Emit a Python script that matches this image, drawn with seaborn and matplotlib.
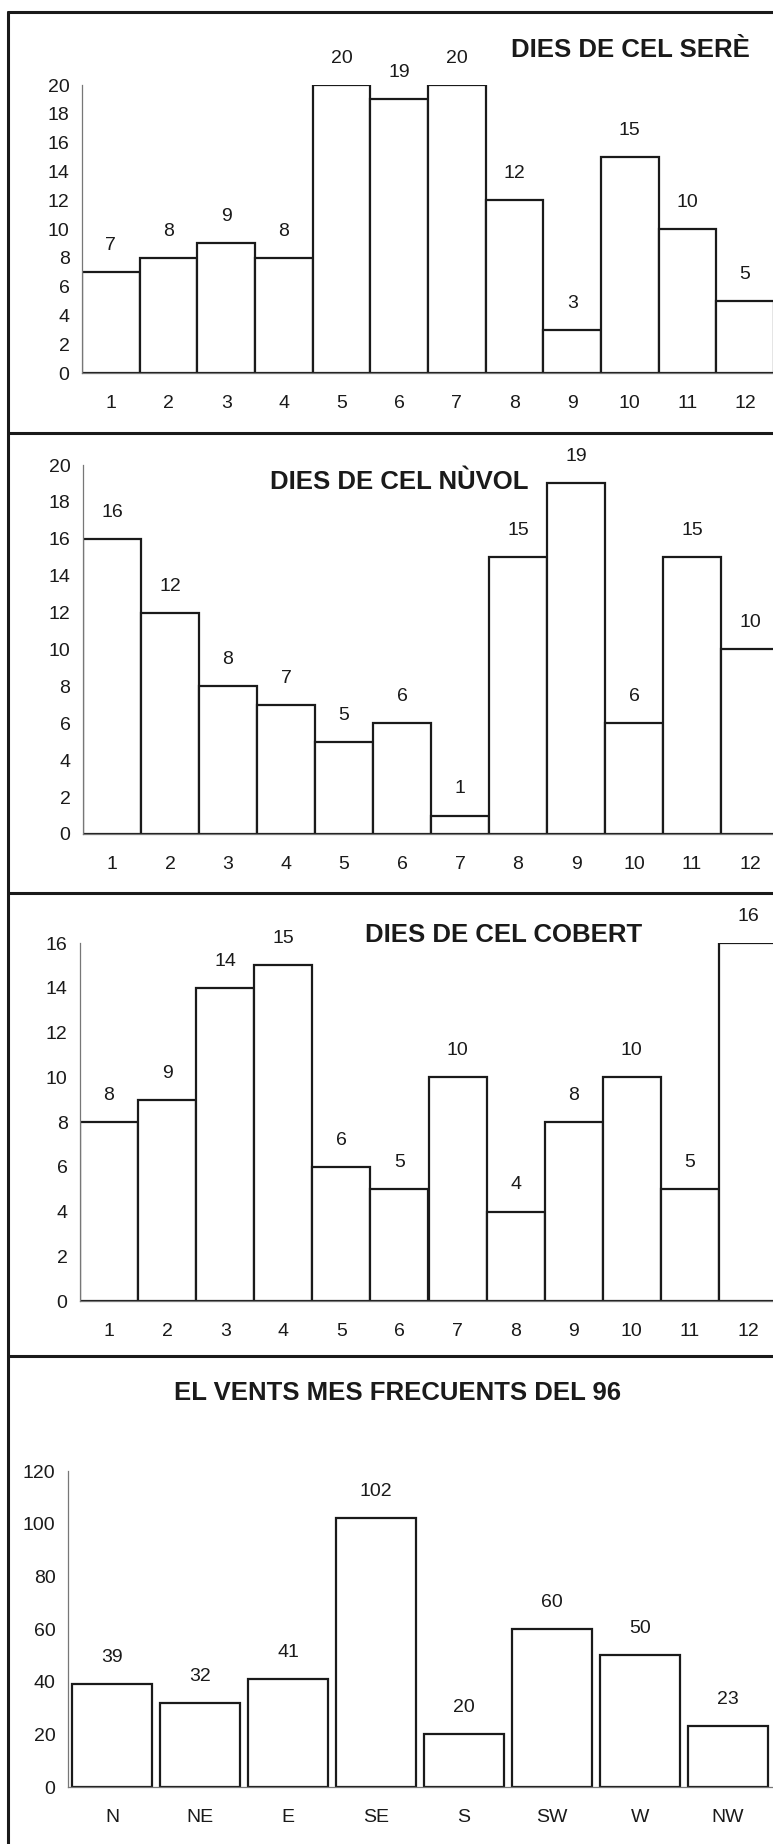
import numpy as np
import pandas as pd
import seaborn as sns
import matplotlib.pyplot as plt
from matplotlib.lines import Line2D

# Values
months = ['1', '2', '3', '4', '5', '6', '7', '8', '9', '10', '11', '12']
sere = [7, 8, 9, 8, 20, 19, 20, 12, 3, 15, 10, 5]
nuvol = [16, 12, 8, 7, 5, 6, 1, 15, 19, 6, 15, 10]
cobert = [8, 9, 14, 15, 6, 5, 10, 4, 8, 10, 5, 16]
winds = ['N', 'NE', 'E', 'SE', 'S', 'SW', 'W', 'NW']
wind_days = [39, 32, 41, 102, 20, 60, 50, 23]

titles = ['DIES DE CEL SERÈ', 'DIES DE CEL NÙVOL', 'DIES DE CEL COBERT',
          'EL VENTS MES FRECUENTS DEL 96']

sns.set_style('white')
plt.rcParams['font.family'] = ['Liberation Sans', 'DejaVu Sans']

W, H = 773, 1844
fig = plt.figure(figsize=(W / 100, H / 100), dpi=100)
ink = '#1a1a1a'


def box(x0, x1, ytop, ybot):
    return [x0 / W, 1 - ybot / H, (x1 - x0) / W, (ybot - ytop) / H]


def panel(rect, cats, vals, ymax, ystep, width):
    ax = fig.add_axes(rect)
    df = pd.DataFrame({'cat': cats, 'val': vals})
    sns.barplot(data=df, x='cat', y='val', order=cats, ax=ax, color='white',
                edgecolor=ink, linewidth=1.6, width=width, saturation=1)
    ax.set_xlim(-0.5, len(cats) - 0.5)
    ax.set_ylim(0, ymax)
    ax.set_yticks(np.arange(0, ymax + 1, ystep))
    ax.set_xticks(np.arange(-0.5, len(cats), 1), minor=True)
    ax.set_xlabel('')
    ax.set_ylabel('')
    for s in ['top', 'right']:
        ax.spines[s].set_visible(False)
    for s in ['left', 'bottom']:
        ax.spines[s].set_color('#777777')
        ax.spines[s].set_linewidth(0.9)
    ax.tick_params(axis='y', direction='inout', length=8, width=0.8,
                   color='#777777', pad=5, labelsize=14, labelcolor=ink)
    ax.tick_params(axis='x', which='major', length=0, pad=16,
                   labelsize=14, labelcolor=ink)
    ax.tick_params(axis='x', which='minor', direction='out', length=6,
                   width=0.8, color='#777777')
    ax.bar_label(ax.containers[0], padding=13, fontsize=14, color=ink,
                 clip_on=False)
    ax.patch.set_alpha(0)
    return ax


panel(box(82, 774, 85, 373), months, sere, 20, 2, 1.0)
panel(box(83, 779, 465, 834), months, nuvol, 20, 2, 1.0)
panel(box(80, 777, 943, 1301), months, cobert, 16, 2, 1.0)
panel(box(68, 772, 1471, 1787), winds, wind_days, 120, 20, 0.9)

# Panel titles
for (x, y), t in zip([(630, 50), (399, 482), (504, 935), (398, 1393)], titles):
    fig.text(x / W, 1 - y / H, t, ha='center', va='center', fontsize=18.5,
             fontweight='bold', color=ink)

# Sheet frame and panel separators
fig.add_artist(Line2D([8 / W, 8 / W], [0, 1 - 12 / H], transform=fig.transFigure,
                      color=ink, lw=2.2))
for y in [12, 433, 893, 1356]:
    fig.add_artist(Line2D([8 / W, 1], [1 - y / H, 1 - y / H],
                          transform=fig.transFigure, color=ink, lw=2.2))

fig.savefig('out.png', dpi=100, facecolor='white')
